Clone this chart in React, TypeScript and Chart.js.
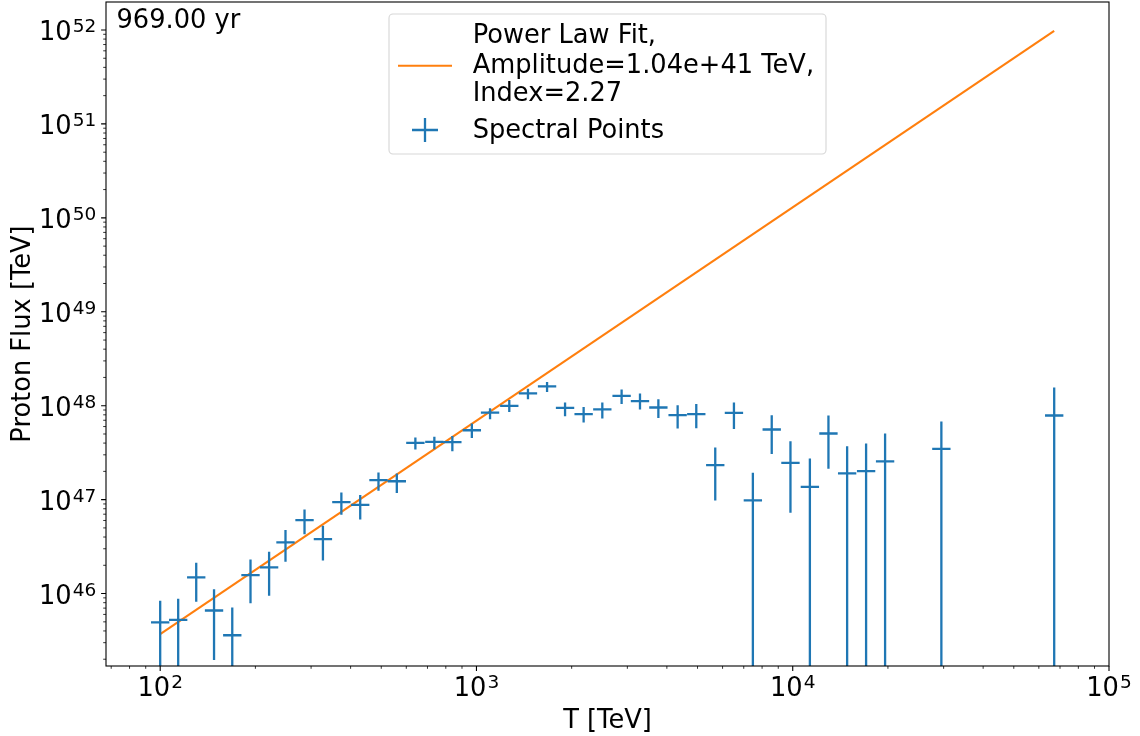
import React, { useEffect, useRef } from "react";
import { Chart, registerables } from "chart.js";

Chart.register(...registerables);

// ---- data ----
const energyTeV = [
  100, 114, 130, 148, 169, 193, 221, 249, 286, 327, 374, 429, 490, 560, 641, 736, 839, 967,
  1104, 1270, 1455, 1672, 1906, 2182, 2500, 2877, 3289, 3760, 4326, 4955, 5689, 6518, 7481,
  8582, 9836, 11330, 12970, 14860, 17060, 19590, 29510, 67100,
];
const fluxTeV = [
  4.94e45, 5.25e45, 1.49e46, 6.6e45, 3.6e45, 1.57e46, 1.9e46, 3.51e46, 6.05e46, 3.8e46,
  9.4e46, 8.8e46, 1.61e47, 1.57e47, 4.02e47, 4.12e47, 4.09e47, 5.48e47, 8.45e47, 9.95e47,
  1.35e48, 1.61e48, 9.48e47, 8.12e47, 9.12e47, 1.27e48, 1.12e48, 9.57e47, 7.92e47, 8.12e47,
  2.33e47, 8.38e47, 9.8e46, 5.58e47, 2.46e47, 1.37e47, 5.06e47, 1.9e47, 2.01e47, 2.55e47,
  3.47e47, 7.87e47,
];
const fluxUpper = [
  8.4e45, 8.8e45, 2.13e46, 1.11e46, 7.1e45, 2.31e46, 2.78e46, 4.75e46, 7.87e46, 5.26e46,
  1.19e47, 1.12e47, 1.95e47, 1.9e47, 4.59e47, 4.66e47, 4.77e47, 6.47e47, 9.4e47, 1.15e48,
  1.52e48, 1.79e48, 1.08e48, 9.71e47, 1.08e48, 1.49e48, 1.35e48, 1.17e48, 1.01e48, 1.04e48,
  3.59e47, 1.08e48, 1.93e47, 7.92e47, 4.19e47, 2.74e47, 7.87e47, 3.71e47, 3.96e47, 5.06e47,
  6.8e47, 1.56e48,
];
// null = lower error reaches below the plotted range
const fluxLower: (number | null)[] = [
  null, null, 8.2e45, 1.96e45, null, 7.9e45, 9.5e45, 2.18e46, 4.27e46, 2.25e46,
  6.9e46, 6.15e46, 1.24e47, 1.18e47, 3.42e47, 3.44e47, 3.28e47, 4.54e47, 7.18e47, 8.59e47,
  1.17e48, 1.4e48, 7.73e47, 6.62e47, 7.31e47, 1.04e48, 9.12e47, 7.41e47, 5.72e47, 5.77e47,
  9.8e46, 5.66e47, null, 3.07e47, 7.24e46, null, 2.13e47, null, null, null,
  null, null,
];
const binHalfWidthDex = 0.029;

const fitEnergy = [100, 67100];
const fitFlux = [3.7e45, 9.8e51];

const xMajorTicks = [100, 1000, 10000, 100000];
const xMajorExp = ["2", "3", "4", "5"];
const yMajorTicks = [1e46, 1e47, 1e48, 1e49, 1e50, 1e51, 1e52];
const yMajorExp = ["46", "47", "48", "49", "50", "51", "52"];

const xMin = 67.4;
const xMax = 1e5;
const yMin = 1.694e45;
const yMax = 1.986e52;

const legendLabels = ["Power Law Fit,", "Amplitude=1.04e+41 TeV,", "Index=2.27", "Spectral Points"];
const ageLabel = "969.00 yr";
const xTitle = "T [TeV]";
const yTitle = "Proton Flux [TeV]";

const BLUE = "#1f77b4";
const ORANGE = "#ff7f0e";
const FONT = '"DejaVu Sans", "Liberation Sans", sans-serif';
const MAIN_PX = 25.7;
const SUP_PX = 18.5;

function minorTicks(lo: number, hi: number): number[] {
  const out: number[] = [];
  for (let e = Math.floor(Math.log10(lo)); e <= Math.ceil(Math.log10(hi)); e++) {
    for (let m = 2; m <= 9; m++) {
      const v = m * Math.pow(10, e);
      if (v >= lo && v <= hi) out.push(v);
    }
  }
  return out;
}

function drawPow(ctx: CanvasRenderingContext2D, base: string, exp: string, x: number, y: number, align: "center" | "right") {
  ctx.font = `${MAIN_PX}px ${FONT}`;
  const wb = ctx.measureText(base).width;
  ctx.font = `${SUP_PX}px ${FONT}`;
  const we = ctx.measureText(exp).width;
  const total = wb + we + 1;
  const left = align === "center" ? x - total / 2 : x - total;
  ctx.textAlign = "left";
  ctx.textBaseline = "alphabetic";
  ctx.font = `${MAIN_PX}px ${FONT}`;
  ctx.fillText(base, left, y);
  ctx.font = `${SUP_PX}px ${FONT}`;
  ctx.fillText(exp, left + wb + 1, y - 8);
}

const errorBarPlugin = {
  id: "errorBars",
  afterDatasetsDraw(chart: any) {
    const ctx: CanvasRenderingContext2D = chart.ctx;
    const xs = chart.scales.x;
    const ys = chart.scales.y;
    const ca = chart.chartArea;
    ctx.save();
    ctx.beginPath();
    ctx.rect(ca.left, ca.top, ca.right - ca.left, ca.bottom - ca.top);
    ctx.clip();
    ctx.strokeStyle = BLUE;
    ctx.lineWidth = 2.3;
    ctx.lineCap = "butt";
    for (let i = 0; i < energyTeV.length; i++) {
      const e = energyTeV[i];
      const px = xs.getPixelForValue(e);
      const py = ys.getPixelForValue(fluxTeV[i]);
      const xl = xs.getPixelForValue(e / Math.pow(10, binHalfWidthDex));
      const xr = xs.getPixelForValue(e * Math.pow(10, binHalfWidthDex));
      const yt = ys.getPixelForValue(fluxUpper[i]);
      const lo = fluxLower[i];
      const yb = lo === null ? ca.bottom + 5 : ys.getPixelForValue(lo);
      ctx.beginPath();
      ctx.moveTo(xl, py);
      ctx.lineTo(xr, py);
      ctx.moveTo(px, yt);
      ctx.lineTo(px, yb);
      ctx.stroke();
    }
    ctx.restore();
  },
};

const decorPlugin = {
  id: "decor",
  beforeDraw(chart: any) {
    const ctx: CanvasRenderingContext2D = chart.ctx;
    ctx.save();
    ctx.fillStyle = "#ffffff";
    ctx.fillRect(0, 0, chart.width, chart.height);
    ctx.restore();
  },
  afterDraw(chart: any) {
    const ctx: CanvasRenderingContext2D = chart.ctx;
    const xs = chart.scales.x;
    const ys = chart.scales.y;
    const ca = chart.chartArea;
    ctx.save();
    // frame
    ctx.strokeStyle = "#000000";
    ctx.lineWidth = 1.1;
    ctx.strokeRect(ca.left, ca.top, ca.right - ca.left, ca.bottom - ca.top);

    // ticks
    ctx.beginPath();
    for (const v of xMajorTicks) {
      const p = xs.getPixelForValue(v);
      ctx.moveTo(p, ca.bottom);
      ctx.lineTo(p, ca.bottom + 4.9);
    }
    for (const v of yMajorTicks) {
      const p = ys.getPixelForValue(v);
      ctx.moveTo(ca.left, p);
      ctx.lineTo(ca.left - 4.9, p);
    }
    ctx.stroke();
    ctx.lineWidth = 0.8;
    ctx.beginPath();
    for (const v of minorTicks(xMin, xMax)) {
      const p = xs.getPixelForValue(v);
      ctx.moveTo(p, ca.bottom);
      ctx.lineTo(p, ca.bottom + 2.8);
    }
    for (const v of minorTicks(yMin, yMax)) {
      const p = ys.getPixelForValue(v);
      ctx.moveTo(ca.left, p);
      ctx.lineTo(ca.left - 2.8, p);
    }
    ctx.stroke();

    // tick labels
    ctx.fillStyle = "#000000";
    xMajorTicks.forEach((v, i) => {
      const p = xs.getPixelForValue(v);
      drawPow(ctx, "10", xMajorExp[i], p, ca.bottom + 30, "center");
    });
    yMajorTicks.forEach((v, i) => {
      const p = ys.getPixelForValue(v);
      drawPow(ctx, "10", yMajorExp[i], ca.left - 9.8, p + 10.5, "right");
    });

    // axis titles
    ctx.font = `${MAIN_PX}px ${FONT}`;
    ctx.textAlign = "center";
    ctx.textBaseline = "alphabetic";
    ctx.fillText(xTitle, (ca.left + ca.right) / 2, 728);
    ctx.save();
    ctx.translate(30, (ca.top + ca.bottom) / 2);
    ctx.rotate(-Math.PI / 2);
    ctx.fillText(yTitle, 0, 0);
    ctx.restore();

    // age label
    ctx.textAlign = "left";
    ctx.fillText(ageLabel, 116.5, 27.7);

    // legend
    const bx = 389, by = 14, bw = 437, bh = 140, r = 4;
    ctx.beginPath();
    ctx.moveTo(bx + r, by);
    ctx.lineTo(bx + bw - r, by);
    ctx.arcTo(bx + bw, by, bx + bw, by + r, r);
    ctx.lineTo(bx + bw, by + bh - r);
    ctx.arcTo(bx + bw, by + bh, bx + bw - r, by + bh, r);
    ctx.lineTo(bx + r, by + bh);
    ctx.arcTo(bx, by + bh, bx, by + bh - r, r);
    ctx.lineTo(bx, by + r);
    ctx.arcTo(bx, by, bx + r, by, r);
    ctx.closePath();
    ctx.fillStyle = "rgba(255,255,255,0.8)";
    ctx.fill();
    ctx.strokeStyle = "rgba(204,204,204,0.8)";
    ctx.lineWidth = 1.1;
    ctx.stroke();

    ctx.strokeStyle = ORANGE;
    ctx.lineWidth = 2.1;
    ctx.beginPath();
    ctx.moveTo(398, 65.7);
    ctx.lineTo(452, 65.7);
    ctx.stroke();

    ctx.strokeStyle = BLUE;
    ctx.lineWidth = 2.3;
    ctx.beginPath();
    ctx.moveTo(412, 130);
    ctx.lineTo(438, 130);
    ctx.moveTo(425, 118);
    ctx.lineTo(425, 142);
    ctx.stroke();

    ctx.fillStyle = "#000000";
    ctx.font = `${MAIN_PX}px ${FONT}`;
    ctx.textAlign = "left";
    const baselines = [43.3, 72.5, 101.0, 138.3];
    legendLabels.forEach((t, i) => ctx.fillText(t, 472.7, baselines[i]));
    ctx.restore();
  },
};

export default function App() {
  const ref = useRef<HTMLCanvasElement | null>(null);
  useEffect(() => {
    document.body.style.margin = "0";
    if (!ref.current) return;
    const chart = new Chart(ref.current, {
      type: "scatter",
      data: {
        datasets: [
          {
            label: "Power Law Fit",
            data: fitEnergy.map((x, i) => ({ x, y: fitFlux[i] })),
            showLine: true,
            borderColor: ORANGE,
            backgroundColor: ORANGE,
            borderWidth: 2.1,
            pointRadius: 0,
            order: 0,
          },
          {
            label: "Spectral Points",
            data: energyTeV.map((x, i) => ({ x, y: fluxTeV[i] })),
            pointRadius: 0,
            borderColor: BLUE,
            backgroundColor: BLUE,
            order: 1,
          },
        ],
      },
      options: {
        responsive: false,
        animation: false,
        devicePixelRatio: 1,
        layout: { padding: { left: 106, top: 2, right: 31, bottom: 70 } },
        plugins: { legend: { display: false }, tooltip: { enabled: false }, title: { display: false } },
        scales: {
          x: { type: "logarithmic", min: xMin, max: xMax, display: false },
          y: { type: "logarithmic", min: yMin, max: yMax, display: false },
        },
      },
      plugins: [decorPlugin, errorBarPlugin],
    });
    return () => chart.destroy();
  }, []);
  return (
    <div style={{ width: 1140, height: 736 }}>
      <canvas ref={ref} width={1140} height={736} style={{ display: "block" }} />
    </div>
  );
}
